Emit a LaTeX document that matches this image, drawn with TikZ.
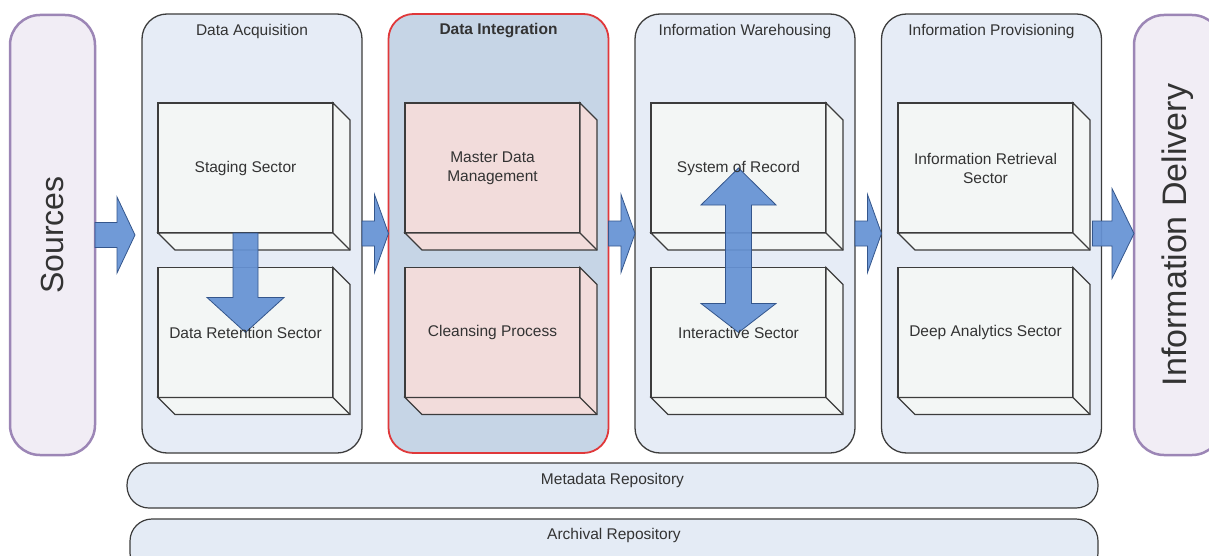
\documentclass[tikz,border=0pt]{standalone}
\usepackage{fontspec}
\setmainfont{Liberation Sans}
\usetikzlibrary{calc}
\pgfdeclarelayer{front}
\pgfsetlayers{main,front}
\definecolor{panelfill}{HTML}{E6ECF6}
\definecolor{intfill}{HTML}{C6D5E6}
\definecolor{boxfill}{HTML}{F3F6F5}
\definecolor{pinkfill}{HTML}{F2DCDB}
\definecolor{edgegray}{HTML}{3C3C3C}
\definecolor{redline}{HTML}{E0383A}
\definecolor{purpleline}{HTML}{9C86B6}
\definecolor{lavender}{HTML}{F1EDF5}
\definecolor{arrowblue}{HTML}{6592D4}
\definecolor{arrowedge}{HTML}{34568C}
\definecolor{barfill}{HTML}{E4EBF5}
\definecolor{txt}{HTML}{333333}
\tikzset{
  smalltext/.style={text=txt, font=\fontsize{15.5}{19}\selectfont, align=center, inner sep=0pt},
  bigtext/.style={text=txt, rotate=90, inner sep=0pt},
  panel/.style={draw=edgegray, line width=1.3pt, fill=panelfill, rounded corners=25pt,
    minimum width=220pt, minimum height=439pt, inner sep=0pt, outer sep=0pt},
  endbox/.style={draw=purpleline, line width=2.5pt, fill=lavender, rounded corners=30pt,
    minimum height=440pt, inner sep=0pt, outer sep=0pt},
  sectorbox/.style={draw=edgegray, line width=1.3pt, fill=#1,
    minimum width=175pt, minimum height=130pt, inner sep=0pt, outer sep=0pt},
  sectorbox/.default=boxfill,
  boxline/.style={draw=edgegray, line width=1.3pt, line join=miter},
  repobar/.style={draw=edgegray, line width=1.2pt, fill=barfill, rounded corners=22pt,
    inner sep=0pt, outer sep=0pt},
  blockarrow/.style={fill=arrowblue, draw=arrowedge, line width=0.8pt, fill opacity=0.93,
    line join=miter},
}
\newcommand\extrude[2]{%
  \filldraw[boxline, fill=#2] (#1.north east) -- ++(17,17) -- ($(#1.south east)+(17,17)$)
    -- ($(#1.south west)+(17,17)$) -- (#1.south west) -- (#1.south east) -- cycle;
  \draw[boxline] (#1.south east) -- ++(17,17);}
\newcommand\harrow[4]{%
  \path[blockarrow] let \p1=(#1), \p2=(#2) in
    (\x1,\y1+12.5pt) -- (\x2-#3pt,\y1+12.5pt) -- (\x2-#3pt,\y1+#4pt) -- (\x2,\y1)
    -- (\x2-#3pt,\y1-#4pt) -- (\x2-#3pt,\y1-12.5pt) -- (\x1,\y1-12.5pt) -- cycle;}
\begin{document}
\begin{tikzpicture}[x=1pt,y=-1pt]
\useasboundingbox (0,0) rectangle (1209,556);
\clip (0,0) rectangle (1209,556);
% end boxes
\node[endbox, minimum width=85pt] (src) at (52.5,235) {};
\node[endbox, minimum width=88pt] (del) at (1178,235) {};
\node[bigtext, font=\fontsize{32}{36}\selectfont] (srct) at (src.center) {Sources};
\node[bigtext, font=\fontsize{34}{38}\selectfont] (delt) at (del.center) {Information Delivery};
% panels
\node[panel] (acq) at (252,233.5) {};
\node[panel, fill=intfill, draw=redline, line width=1.8pt] (int) at (498.5,233.5) {};
\node[panel] (wh) at (745,233.5) {};
\node[panel] (prov) at (991.5,233.5) {};
\node[smalltext] (acqt) at ($(acq.north)+(0,17)$) {Data Acquisition};
\node[smalltext, font=\fontsize{15.5}{19}\selectfont\bfseries] (intt) at ($(int.north)+(0,17)$) {Data Integration};
\node[smalltext] (wht) at ($(wh.north)+(0,17)$) {Information Warehousing};
\node[smalltext] (provt) at ($(prov.north)+(0,17)$) {Information Provisioning};
% sector boxes
\node[sectorbox] (stg) at (245.5,168) {};
\node[sectorbox] (ret) at (245.5,332.5) {};
\node[sectorbox=pinkfill] (mdm) at (492.5,168) {};
\node[sectorbox=pinkfill] (cln) at (492.5,332.5) {};
\node[sectorbox] (sor) at (738.5,168) {};
\node[sectorbox] (ias) at (738.5,332.5) {};
\node[sectorbox] (irs) at (985.5,168) {};
\node[sectorbox] (das) at (985.5,332.5) {};
\extrude{stg}{boxfill}\extrude{ret}{boxfill}
\extrude{mdm}{pinkfill}\extrude{cln}{pinkfill}
\extrude{sor}{boxfill}\extrude{ias}{boxfill}
\extrude{irs}{boxfill}\extrude{das}{boxfill}
% repository bars
\node[repobar, minimum width=971pt, minimum height=45pt] (meta) at (612.5,485.5) {};
\node[repobar, minimum width=968pt, minimum height=56pt] (arch) at (614,547) {};
\node[smalltext] (metat) at ($(meta.center)+(0,-5)$) {Metadata Repository};
\node[smalltext] (archt) at ($(arch.north)+(0,16)$) {Archival Repository};
% horizontal block arrows
\harrow{src.east}{$(acq.west)+(-7,0)$}{18}{38}
\harrow{acq.east}{int.west}{14}{39}
\harrow{int.east}{wh.west}{14}{39}
\harrow{wh.east}{prov.west}{14}{39}
\harrow{$(prov.east)+(-9,0)$}{del.west}{22}{45}
% vertical block arrows
\path[blockarrow] let \p1=(stg.south), \p2=(ret.center) in
  (\x1-12.5pt,\y1) -- (\x1+12.5pt,\y1) -- (\x1+12.5pt,\y2+35pt) -- (\x1+38.5pt,\y2+35pt)
  -- (\x1,\y2) -- (\x1-38.5pt,\y2+35pt) -- (\x1-12.5pt,\y2+35pt) -- cycle;
\path[blockarrow] let \p1=(sor.center), \p2=(ias.center) in
  (\x1,\y1) -- (\x1+37.5pt,\y1-37pt) -- (\x1+13pt,\y1-37pt) -- (\x1+13pt,\y2+29pt)
  -- (\x1+37.5pt,\y2+29pt) -- (\x1,\y2) -- (\x1-37.5pt,\y2+29pt) -- (\x1-13pt,\y2+29pt)
  -- (\x1-13pt,\y1-37pt) -- (\x1-37.5pt,\y1-37pt) -- cycle;
% sector labels on top
\begin{pgfonlayer}{front}
\node[smalltext] (stgt) at (stg.center) {Staging Sector};
\node[smalltext] (rett) at (ret.center) {Data Retention Sector};
\node[smalltext] (mdmt) at (mdm.center) {Master Data\\Management};
\node[smalltext] (clnt) at (cln.center) {Cleansing Process};
\node[smalltext] (sort) at (sor.center) {System of Record};
\node[smalltext] (iast) at (ias.center) {Interactive Sector};
\node[smalltext] (irst) at (irs.center) {Information Retrieval\\Sector};
\node[smalltext] (dast) at (das.center) {Deep Analytics Sector};
\end{pgfonlayer}
\end{tikzpicture}
\end{document}
